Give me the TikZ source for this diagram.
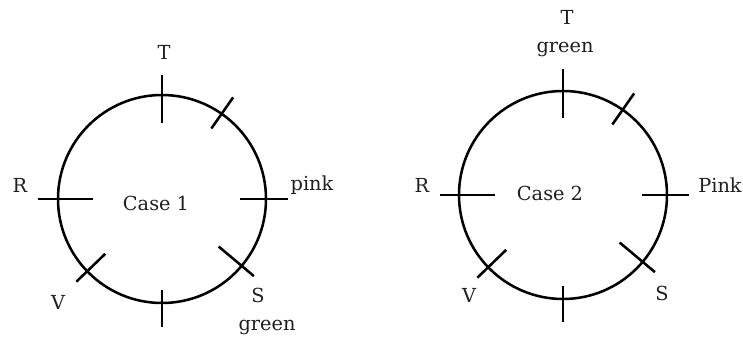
\documentclass[tikz,border=0pt]{standalone}
\usepackage{fontspec}
\setmainfont{DejaVu Serif}
\usetikzlibrary{calc}

\begin{document}
\begin{tikzpicture}[
    x=0.75pt, y=0.75pt,
    font=\fontsize{14.5}{17}\selectfont,
    ring/.style={line width=1.9pt},
    tick/.style={line width=1.9pt},
    lbl/.style={text=black!88, inner sep=0pt},
  ]
  \useasboundingbox (0,0) rectangle (743,339);

  %% ── Case 1 ───────────────────────────────────────────────
  \coordinate (c1) at (162,140);
  \draw[ring] (c1) circle (104);
  \foreach \a/\i/\o [evaluate=\i as \ri using 104-\i,
                     evaluate=\o as \ro using 104+\o] in
      {90/28/20, 55/18/20, 0/26/22, -40/30/16, -90/13/24, -136/25/15, 180/35/20}
    \draw[tick] ($(c1)+(\a:\ri)$) -- ($(c1)+(\a:\ro)$);

  \node[lbl] (t1)    at (164,287) {T};
  \node[lbl] (r1)    at (20,154)  {R};
  \node[lbl] (p1)    at (312,154) {pink};
  \node[lbl] (v1)    at (58,37)   {V};
  \node[lbl] (s1)    at (258,44)  {S};
  \node[lbl] (g1)    at (267,12)  {green};
  \node[lbl] (case1) at (156,136) {Case 1};

  %% ── Case 2 ───────────────────────────────────────────────
  \coordinate (c2) at (563,144);
  \draw[ring] (c2) circle (104);
  \foreach \a/\i/\o [evaluate=\i as \ri using 104-\i,
                     evaluate=\o as \ro using 104+\o] in
      {90/27/22, 55/18/20, 0/25/22, -40/30/16, -90/13/23, -136/25/15, 180/36/19}
    \draw[tick] ($(c2)+(\a:\ri)$) -- ($(c2)+(\a:\ro)$);

  \node[lbl] (t2)    at (567,322) {T};
  \node[lbl] (g2)    at (565,290) {green};
  \node[lbl] (r2)    at (422,154) {R};
  \node[lbl] (p2)    at (720,154) {Pink};
  \node[lbl] (v2)    at (469,44)  {V};
  \node[lbl] (s2)    at (662,46)  {S};
  \node[lbl] (case2) at (550,146) {Case 2};
\end{tikzpicture}
\end{document}
